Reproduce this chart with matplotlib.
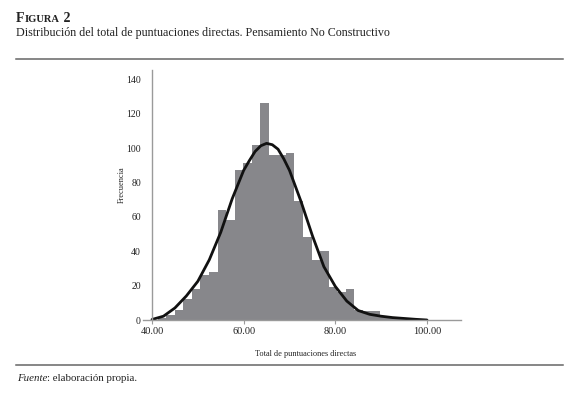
import matplotlib
matplotlib.use('Agg')

import matplotlib.pyplot as plt

# histogram
bin_edges = [41.24, 43.11, 44.97, 46.84, 48.70, 50.57, 52.43, 54.30, 56.16, 58.03,
             59.89, 61.76, 63.62, 65.49, 67.35, 69.22, 71.08, 72.95, 74.81, 76.68,
             78.54, 80.41, 82.27, 84.14, 86.00, 87.87, 89.73, 91.60, 93.46, 95.33,
             97.19]
counts = [1, 3, 6, 12, 18, 26, 28, 64, 58, 87,
          91, 102, 126, 96, 96, 97, 69, 48, 35, 40,
          19, 16, 18, 6, 5, 5, 2, 1, 1, 1]

# fitted curve, points
curve_x = [40, 42.5, 45, 47.5, 50, 52.5, 55, 57.5, 60, 61.25, 62.5, 63.75, 65,
           66.25, 67.5, 68.75, 70, 72.5, 75, 77.5, 80, 82.5, 85, 87.5, 90,
           92.5, 95, 97.5, 100]
curve_y = [0.3, 2.2, 7, 14, 22.5, 35, 51, 70.5, 87, 92.7, 98, 101.3, 102.7,
           101.9, 99.3, 93.7, 87, 69, 49, 31, 19.5, 11, 5.5, 3.3, 2.2,
           1.4, 0.9, 0.4, 0]

x_ticks = [40, 60, 80, 100]
x_tick_labels = ["40.00", "60.00", "80.00", "100.00"]
y_ticks = [0, 20, 40, 60, 80, 100, 120, 140]

title_head = ("F", "IGURA", " 2")
subtitle = "Distribución del total de puntuaciones directas. Pensamiento No Constructivo"
x_label = "Total de puntuaciones directas"
y_label = "Frecuencia"

W, H = 580, 394
SERIF = ["Liberation Serif", "DejaVu Serif"]
TEXT = "#222222"
AXIS = "#9a9a9a"

plt.rcParams['font.family'] = SERIF

fig = plt.figure(figsize=(W / 100, H / 100), dpi=100)
fig.patch.set_facecolor("white")


def px(x, y):
    return x / W, 1 - y / H


def fit_size(t, target):
    # scale the font size so the text spans target pixels
    fig.canvas.draw()
    bb = t.get_window_extent(fig.canvas.get_renderer())
    t.set_fontsize(t.get_fontsize() * target / bb.width)


# axes: x axis line runs from px 143 to 461, y axis sits at x=40 (px 152)
left, right, bottom, top = 143, 461, 320, 70
ax = fig.add_axes([left / W, 1 - bottom / H, (right - left) / W, (bottom - top) / H])
px_per_unit = (426.7 - 151.7) / 60
ax.set_xlim(40 - (152 - left) / px_per_unit, 40 + (right - 152) / px_per_unit)
ax.set_ylim(0, (bottom - top) / 1.72)

ax.stairs(counts, bin_edges, fill=True, color="#87878b", linewidth=0)
ax.plot(curve_x, curve_y, color="#111111", linewidth=2.0, solid_capstyle='round',
        solid_joinstyle='round')

for s in ["top", "right"]:
    ax.spines[s].set_visible(False)
ax.spines["left"].set_position(("data", 40))
for s in ["left", "bottom"]:
    ax.spines[s].set_color(AXIS)
    ax.spines[s].set_linewidth(1.0)

ax.set_xticks(x_ticks)
ax.set_xticklabels(x_tick_labels)
ax.set_yticks(y_ticks)
ax.tick_params(axis="x", length=3, width=0.8, color=AXIS, labelsize=7.4,
               labelcolor=TEXT, pad=2)
ax.tick_params(axis="y", length=0, labelsize=7, labelcolor=TEXT, pad=8)

# titles and rules
cx, cy = px(16, 22)
r = fig.canvas.get_renderer()
t1 = fig.text(cx, cy, title_head[0], fontsize=10, fontweight="bold", color=TEXT)
fig.canvas.draw()
x1 = t1.get_window_extent(r).x1
t2 = fig.text(x1 / W + 0.001, cy, title_head[1], fontsize=7.6, fontweight="bold", color=TEXT)
fig.canvas.draw()
x2 = t2.get_window_extent(r).x1
fig.text(x2 / W, cy, title_head[2], fontsize=10, fontweight="bold", color=TEXT)

st = fig.text(*px(16, 36), subtitle, fontsize=9, color=TEXT)
fit_size(st, 373)

fig.add_artist(plt.Line2D([16 / W, 563 / W], [1 - 59 / H] * 2, color="#666666", linewidth=1.1))
fig.add_artist(plt.Line2D([16 / W, 563 / W], [1 - 365 / H] * 2, color="#666666", linewidth=1.1))

f1 = fig.text(*px(17, 381), "Fuente", fontsize=7.8, style="italic", color=TEXT)
fig.canvas.draw()
fx = f1.get_window_extent(r).x1
fig.text(fx / W, 1 - 381 / H, ": elaboración propia.", fontsize=7.8, color=TEXT)

xl = fig.text(*px(306, 356), x_label, fontsize=6, color=TEXT, ha="center")
fit_size(xl, 102)
fig.text(*px(122, 185), y_label, fontsize=xl.get_fontsize(), color=TEXT,
         ha="center", va="center", rotation=90)

fig.savefig("out.png", dpi=100, facecolor="white")
plt.close(fig)
